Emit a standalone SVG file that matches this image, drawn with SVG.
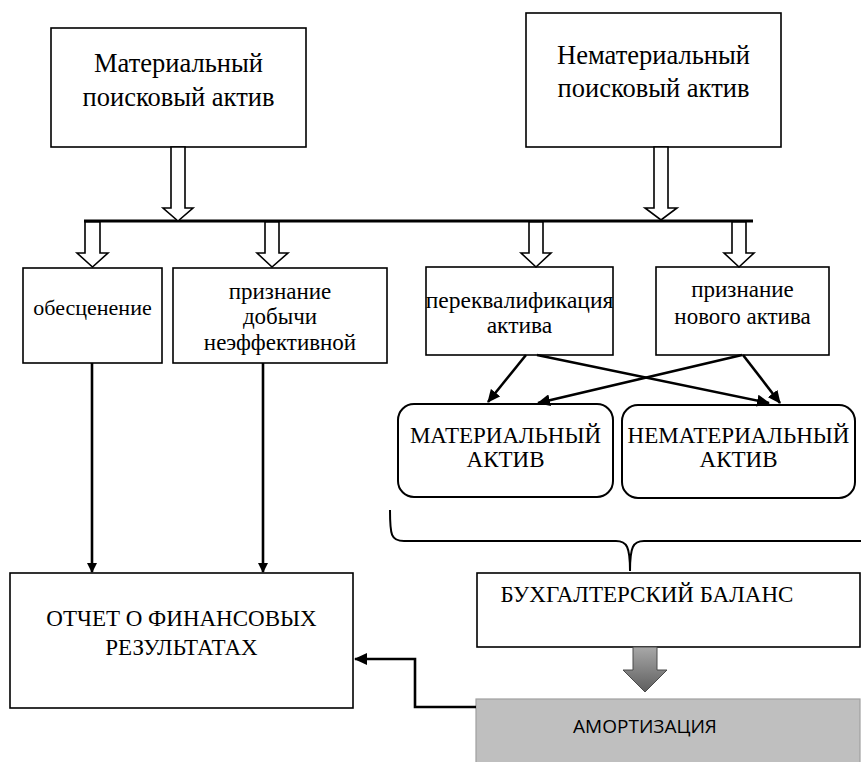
<svg xmlns="http://www.w3.org/2000/svg" width="861" height="762" viewBox="0 0 861 762">
<style>
.box{fill:#fff;stroke:#000;stroke-width:1.6}
.rbox{fill:#fff;stroke:#000;stroke-width:2}
.t{fill:#000;text-anchor:middle}
.big{font-size:26.5px}
.mid{font-size:23px}
.hollow{fill:#fff;stroke:#000;stroke-width:1.6;stroke-linejoin:miter}
.ln{fill:none;stroke:#000;stroke-width:2.6}
</style>
<defs>
<marker id="ah" markerWidth="10" markerHeight="10" refX="9" refY="5" orient="auto" markerUnits="userSpaceOnUse" viewBox="0 0 10 10">
<path d="M0,0 L10,5 L0,10 z" fill="#000"/>
</marker>
<marker id="ah2" markerWidth="13" markerHeight="12" refX="12" refY="6" orient="auto" markerUnits="userSpaceOnUse" viewBox="0 0 13 12">
<path d="M0,0 L13,6 L0,12 z" fill="#000"/>
</marker>
<linearGradient id="gg" x1="0" y1="0" x2="0" y2="1">
<stop offset="0" stop-color="#a8a8a8"/>
<stop offset="1" stop-color="#5e5e5e"/>
</linearGradient>
</defs>

<g id="mat-search">
<rect class="box" x="51" y="28" width="255" height="119"/>
<text class="t big" font-family="Liberation Serif" x="178.5" y="72">Материальный</text>
<text class="t big" font-family="Liberation Serif" x="178.5" y="106">поисковый актив</text>
</g>

<g id="nemat-search">
<rect class="box" x="526" y="13" width="255" height="134"/>
<text class="t big" font-family="Liberation Serif" x="653.5" y="64">Нематериальный</text>
<text class="t big" font-family="Liberation Serif" x="653.5" y="97">поисковый актив</text>
</g>

<g id="obesc">
<rect class="box" x="23" y="268" width="139" height="95"/>
<text class="t" font-size="22" font-family="Liberation Serif" x="92.5" y="315">обесценение</text>
</g>

<g id="priznanie-dob">
<rect class="box" x="173" y="268" width="214" height="95"/>
<text class="t mid" font-family="Liberation Serif" x="280" y="299">признание</text>
<text class="t mid" font-family="Liberation Serif" x="280" y="324">добычи</text>
<text class="t mid" font-family="Liberation Serif" x="280" y="350">неэффективной</text>
</g>

<g id="perekval">
<rect class="box" x="426" y="267" width="187" height="88"/>
<text class="t" font-size="23.5" font-family="Liberation Serif" x="519.5" y="308">переквалификация</text>
<text class="t" font-size="23.5" font-family="Liberation Serif" x="519.5" y="333">актива</text>
</g>

<g id="priznanie-nov">
<rect class="box" x="656" y="267" width="173" height="88"/>
<text class="t mid" font-family="Liberation Serif" x="742.5" y="297">признание</text>
<text class="t mid" font-family="Liberation Serif" x="742.5" y="324">нового актива</text>
</g>

<g id="mat-aktiv">
<rect class="rbox" x="398" y="404" width="215" height="93" rx="16" ry="16"/>
<text class="t mid" font-family="Liberation Serif" x="505.5" y="443">МАТЕРИАЛЬНЫЙ</text>
<text class="t mid" font-family="Liberation Serif" x="505.5" y="467">АКТИВ</text>
</g>

<g id="nemat-aktiv">
<rect class="rbox" x="622" y="405" width="233" height="93" rx="16" ry="16"/>
<text class="t mid" font-family="Liberation Serif" x="738.5" y="443">НЕМАТЕРИАЛЬНЫЙ</text>
<text class="t mid" font-family="Liberation Serif" x="738.5" y="467">АКТИВ</text>
</g>

<g id="otchet">
<rect class="box" x="10" y="573" width="343" height="135"/>
<text class="t mid" font-family="Liberation Serif" x="181.5" y="626">ОТЧЕТ О ФИНАНСОВЫХ</text>
<text class="t mid" font-family="Liberation Serif" x="181.5" y="655">РЕЗУЛЬТАТАХ</text>
</g>

<g id="balans">
<rect class="box" x="477" y="573" width="383" height="74"/>
<text class="t mid" font-family="Liberation Serif" x="647" y="602">БУХГАЛТЕРСКИЙ БАЛАНС</text>
</g>

<g id="amort">
<rect x="476" y="699" width="384" height="70" fill="#bfbfbf" stroke="#a0a0a0" stroke-width="1.2"/>
<text x="645" y="733" font-family="Open Sans" font-size="19" fill="#000" text-anchor="middle">АМОРТИЗАЦИЯ</text>
</g>

<g id="connectors">
<line x1="84" y1="221" x2="753" y2="221" stroke="#000" stroke-width="3"/>
<path class="hollow" d="M171,147 L185,147 L185,208 L193,208 L178,221 L163,208 L171,208 Z"/>
<path class="hollow" d="M654,147 L668,147 L668,208 L677,208 L661,220 L645,208 L654,208 Z"/>
<path class="hollow" d="M85,222 L100,222 L100,253 L108,253 L92.5,267 L77,253 L85,253 Z"/>
<path class="hollow" d="M265,222 L279,222 L279,253 L288,253 L272,267 L257,253 L265,253 Z"/>
<path class="hollow" d="M529,222 L543,222 L543,253 L551,253 L536,267 L521,253 L529,253 Z"/>
<path class="hollow" d="M732,222 L746,222 L746,253 L754,253 L739,267 L724,253 L732,253 Z"/>
<line class="ln" x1="526" y1="355" x2="488" y2="402" marker-end="url(#ah2)"/>
<line class="ln" x1="537" y1="355" x2="769" y2="403" marker-end="url(#ah2)"/>
<line class="ln" x1="742" y1="355" x2="538" y2="403" marker-end="url(#ah2)"/>
<line class="ln" x1="743" y1="355" x2="780" y2="403" marker-end="url(#ah2)"/>
<line class="ln" x1="92" y1="363" x2="92" y2="572" marker-end="url(#ah)"/>
<line class="ln" x1="263" y1="363" x2="263" y2="572" marker-end="url(#ah)"/>
<path class="ln" d="M476,707 L415,707 L415,659 L355,659" marker-end="url(#ah2)"/>
<path d="M390,510 C390,535 391,541 404,541 L616,541 C627,541 630,547 630,571 C630,547 633,541 644,541 L861,541" fill="none" stroke="#000" stroke-width="2"/>
<path d="M633,647 L657,647 L657,670 L667,670 L645,692 L623,670 L633,670 Z" fill="url(#gg)" stroke="#4a4a4a" stroke-width="1"/>
</g>
</svg>
